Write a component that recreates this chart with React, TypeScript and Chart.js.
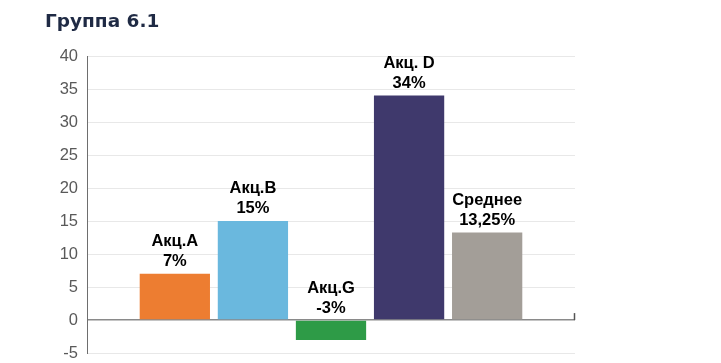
import React, { useEffect, useRef } from "react";
import { Chart, registerables } from "chart.js";

Chart.register(...registerables);

const titleText = "Группа 6.1";
const seriesNames = ["Акц.A", "Акц.B", "Акц.G", "Акц. D", "Среднее"];
const seriesValues = [7, 15, -3, 34, 13.25];
const valueLabels = ["7%", "15%", "-3%", "34%", "13,25%"];
const seriesColors = ["#ED7D31", "#6AB8DE", "#2E9B47", "#3F396C", "#A39E98"];
const yTicks = { min: -5, max: 40, step: 5 };

export default function App() {
  const ref = useRef<HTMLCanvasElement | null>(null);

  useEffect(() => {
    const canvas = ref.current;
    if (!canvas) return;

    const labelPlugin = {
      id: "barLabels",
      afterDatasetsDraw(chart: any) {
        const ctx = chart.ctx;
        ctx.save();
        ctx.fillStyle = "#000000";
        ctx.textAlign = "center";
        ctx.textBaseline = "alphabetic";
        ctx.font = "bold 16.5px 'Liberation Sans', Arial, sans-serif";
        chart.data.datasets.forEach((ds: any, i: number) => {
          const meta = chart.getDatasetMeta(i);
          const el = meta.data[0];
          if (!el) return;
          const top = Math.min(el.y, el.base);
          const x = el.x;
          ctx.fillText(valueLabels[i], x, top - 8);
          ctx.fillText(seriesNames[i], x, top - 28);
        });
        // small tick at the right end of the zero axis line
        const yZero = chart.scales.y.getPixelForValue(0);
        const right = chart.chartArea.right;
        ctx.strokeStyle = "#555555";
        ctx.lineWidth = 1.5;
        ctx.beginPath();
        ctx.moveTo(right - 0.5, yZero - 7);
        ctx.lineTo(right - 0.5, yZero);
        ctx.stroke();
        ctx.restore();
      },
    };

    const titlePlugin = {
      id: "customTitle",
      afterDraw(chart: any) {
        const ctx = chart.ctx;
        ctx.save();
        ctx.fillStyle = "#1F2A44";
        ctx.textAlign = "left";
        ctx.textBaseline = "alphabetic";
        ctx.font = "bold 18.5px 'DejaVu Sans', Verdana, sans-serif";
        ctx.fillText(titleText, 45, 27);
        ctx.restore();
      },
    };

    const chart = new Chart(canvas, {
      type: "bar",
      data: {
        labels: [""],
        datasets: seriesNames.map((name, i) => ({
          label: name,
          data: [seriesValues[i]],
          backgroundColor: seriesColors[i],
          borderWidth: 0,
          categoryPercentage: 0.8,
          barPercentage: 0.9,
        })),
      },
      options: {
        responsive: false,
        animation: false,
        layout: { padding: { left: 0, right: 146, top: 56, bottom: 1 } },
        plugins: {
          legend: { display: false },
          tooltip: { enabled: false },
          title: { display: false },
        },
        scales: {
          x: { display: false },
          y: {
            min: yTicks.min,
            max: yTicks.max,
            ticks: {
              stepSize: yTicks.step,
              color: "#595959",
              padding: 9,
              font: { family: "'Liberation Sans', Arial, sans-serif", size: 16.5 },
            },
            grid: {
              drawTicks: false,
              color: (c: any) => (c.tick && c.tick.value === 0 ? "#8A8A8A" : "#E8E8E8"),
              lineWidth: (c: any) => (c.tick && c.tick.value === 0 ? 1.5 : 1),
            },
            border: { display: true, color: "#6E6E6E", width: 1 },
            afterFit: (scale: any) => {
              scale.width = 87;
            },
          },
        },
      },
      plugins: [labelPlugin, titlePlugin],
    });

    return () => chart.destroy();
  }, []);

  return (
    <div style={{ position: "absolute", left: 0, top: 0, width: 721, height: 363, overflow: "hidden", background: "#fff" }}>
      <canvas ref={ref} width={721} height={372} style={{ display: "block" }} />
    </div>
  );
}
